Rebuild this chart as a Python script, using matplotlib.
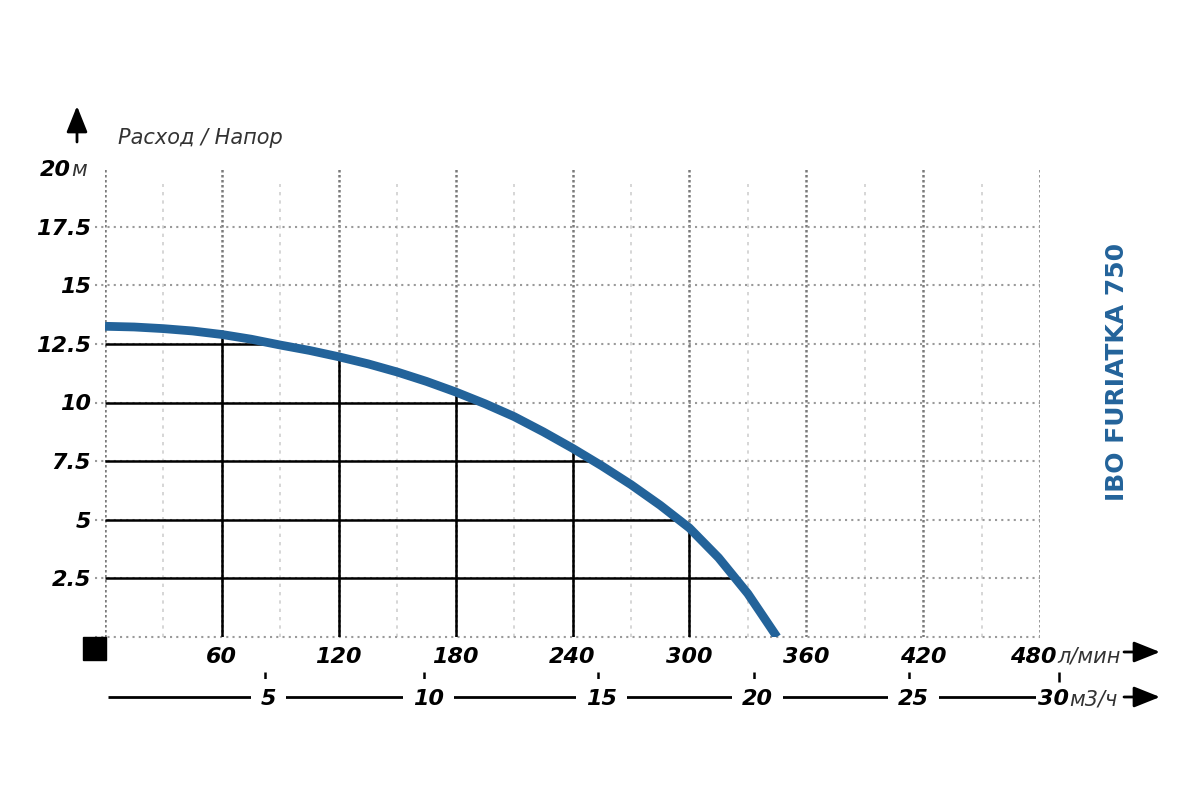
import matplotlib
matplotlib.use("Agg")
import matplotlib.pyplot as plt
import matplotlib.transforms as mtransforms
from matplotlib.patches import Rectangle
import numpy as np

# характеристика насоса: расход (л/мин) -> напор (м)
flow_lpm = [0, 15, 30, 45, 60, 75, 90, 105, 120, 135, 150, 165, 180, 195, 210, 225,
            240, 255, 270, 285, 300, 315, 330, 345]
head_m = [13.25, 13.22, 13.15, 13.05, 12.9, 12.7, 12.45, 12.22, 11.95, 11.65, 11.3, 10.9,
          10.45, 9.95, 9.4, 8.75, 8.05, 7.3, 6.5, 5.62, 4.65, 3.38, 1.85, 0.0]

lpm_ticks = [60, 120, 180, 240, 300, 360, 420, 480]
lpm_minor = [30, 90, 150, 210, 270, 330, 390, 450]
head_ticks = [2.5, 5, 7.5, 10, 12.5, 15, 17.5, 20]
head_labels = ["2.5", "5", "7.5", "10", "12.5", "15", "17.5", "20"]

# вторая шкала м3/ч, положения в л/мин (как на картинке)
m3h_labels = ["5", "10", "15", "20", "25", "30"]
m3h_pos = [82, 164, 253, 333, 413, 490]

guide_flows = [60, 120, 180, 240, 300]
guide_heads = [12.5, 10, 7.5, 5, 2.5]

title = "Расход / Напор"
model = "IBO FURIATKA 750"
blue = "#23639a"

bold = dict(family="DejaVu Sans", weight="bold", style="italic", size=16, color="black")
light = dict(family="DejaVu Sans", style="italic", size=15, color="#333333")

fig = plt.figure(figsize=(12, 8), dpi=100)
ax = fig.add_axes([105/1200, 163/800, 935/1200, 469/800])
ax.set_xlim(0, 480)
ax.set_ylim(0, 20)
ax.set_axis_off()

# сетка
ax.vlines([0] + lpm_ticks, 0, 20, colors="#7a7a7a", lw=1.8, linestyles=(0, (1, 1)), zorder=1)
ax.vlines(lpm_minor, 0, 19.3, colors="#cfcfcf", lw=1.2, linestyles=(0, (2, 3)), zorder=1)
ax.hlines([0] + head_ticks[:-1], -5, 480, colors="#9a9a9a", lw=1.5, linestyles=(0, (1, 2)),
          zorder=1, clip_on=False)

# чёрные линии до кривой
fl = np.array(flow_lpm)
hd = np.array(head_m)
for f in guide_flows:
    ax.vlines(f, 0, np.interp(f, fl, hd), colors="black", lw=1.8, zorder=2)
for h in guide_heads:
    ax.hlines(h, 0, np.interp(h, hd[::-1], fl[::-1]), colors="black", lw=1.8, zorder=2)

ax.plot(flow_lpm, head_m, color=blue, lw=6.3, solid_capstyle="butt", solid_joinstyle="round",
        zorder=3)

# подписи оси Y
ytr = mtransforms.offset_copy(ax.get_yaxis_transform(), fig=fig, x=-14, y=0, units="dots")
for v, lab in zip(head_ticks[:-1], head_labels[:-1]):
    ax.text(0, v, lab, transform=ytr, ha="right", va="center_baseline", **bold)
ytr2 = mtransforms.offset_copy(ax.get_yaxis_transform(), fig=fig, x=-34, y=0, units="dots")
ax.text(0, head_ticks[-1], head_labels[-1], transform=ytr2, ha="right", va="center_baseline", **bold)
ax.text(0, head_ticks[-1], "м", transform=ytr2, ha="left", va="center_baseline", **light)

# подписи оси X (л/мин)
xtr = mtransforms.offset_copy(ax.get_xaxis_transform(), fig=fig, x=0, y=-18, units="dots")
for v in lpm_ticks[:-1]:
    ax.text(v, 0, str(v), transform=xtr, ha="center", va="center_baseline", **bold)
xtr_r = mtransforms.offset_copy(ax.get_xaxis_transform(), fig=fig, x=17, y=-18, units="dots")
ax.text(lpm_ticks[-1], 0, str(lpm_ticks[-1]), transform=xtr_r, ha="right", va="center_baseline", **bold)
ax.text(lpm_ticks[-1], 0, "л/мин", transform=xtr_r, ha="left", va="center_baseline", **light)

# вторая шкала (м3/ч)
ax2 = fig.add_axes([105/1200, 88/800, 935/1200, 45/800])
ax2.set_xlim(0, 480)
ax2.set_ylim(0, 1)
ax2.set_axis_off()
ax2.hlines(0.333, 1.5, m3h_pos[-1] - 10, colors="black", lw=2, zorder=1)
ax2.vlines(m3h_pos, 0.667, 0.889, colors="black", lw=1.8, clip_on=False)
for p, lab in zip(m3h_pos[:-1], m3h_labels[:-1]):
    ax2.text(p + 2, 0.333, lab, ha="center", va="center_baseline", zorder=2,
             bbox=dict(boxstyle="square,pad=0.45", fc="white", ec="none"), **bold)
ax2.text(m3h_pos[-1] + 5, 0.333, m3h_labels[-1], ha="right", va="center_baseline", zorder=2,
         bbox=dict(boxstyle="square,pad=0.1", fc="white", ec="none"), clip_on=False, **bold)
ax2.text(m3h_pos[-1] + 5, 0.333, "м3/ч", ha="left", va="center_baseline", clip_on=False, **light)

# стрелки и квадрат
arrow = dict(arrowstyle="-|>,head_length=0.8,head_width=0.32", color="black", lw=2,
             mutation_scale=20, shrinkA=0, shrinkB=0)
fig.add_artist(plt.Annotation("", xy=(1160, 800 - 652), xytext=(1124, 800 - 652),
                              xycoords="figure pixels", arrowprops=arrow))
fig.add_artist(plt.Annotation("", xy=(1160, 800 - 697), xytext=(1124, 800 - 697),
                              xycoords="figure pixels", arrowprops=arrow))
fig.add_artist(plt.Annotation("", xy=(77, 800 - 106), xytext=(77, 800 - 142),
                              xycoords="figure pixels", arrowprops=arrow))
fig.add_artist(Rectangle((83/1200, (800 - 660)/800), 23/1200, 23/800,
                         transform=fig.transFigure, color="black"))

fig.text(118/1200, 1 - 138/800, title, ha="left", va="center", **light)
fig.text(1117/1200, 1 - 372/800, model, rotation=90, ha="center", va="center",
         family="DejaVu Sans", weight="bold", size=18, color=blue)

fig.savefig("out.png", dpi=100)
